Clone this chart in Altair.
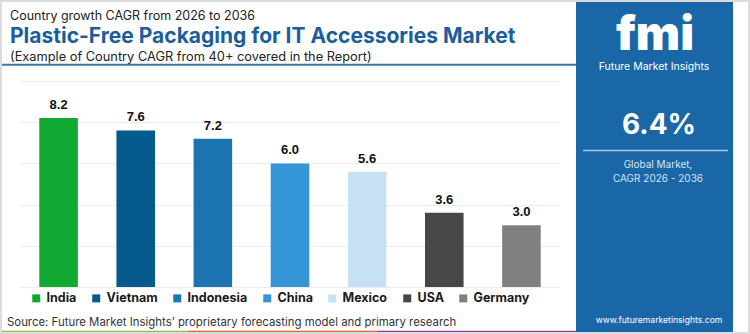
import altair as alt
import pandas as pd

# ---- data ----
countries = ["India", "Vietnam", "Indonesia", "China", "Mexico", "USA", "Germany"]
cagr = [8.2, 7.6, 7.2, 6.0, 5.6, 3.6, 3.0]
bar_colors = ["#12a932", "#045a8d", "#1c75b1", "#3395d6", "#c5e1f3", "#474747", "#808080"]
grid_values = [0, 2, 4, 6, 8, 10]
y_domain = [0, 10]

kicker = "Country growth CAGR from 2026 to 2036"
title = "Plastic-Free Packaging for IT Accessories Market"
subtitle = "(Example of Country CAGR from 40+ covered in the Report)"
source = "Source: Future Market Insights\u2019 proprietary forecasting model and primary research"
global_value = "6.4%"
global_lines = ["Global Market,", "CAGR 2026 - 2036"]
website = "www.futuremarketinsights.com"

df = pd.DataFrame({"country": countries, "cagr": cagr,
                   "label": [f"{v:.1f}" for v in cagr]})

W, H = 540, 206
PL, PT = 20, 81
FONT = "Inter"
one = pd.DataFrame({"k": [0]})


def px(v):
    return v - PL


def py(v):
    return v - PT


def txt(s, x, y, size, color, weight="normal", align="left", baseline="middle", font=FONT):
    return alt.Chart(pd.DataFrame({"t": [s]})).mark_text(
        align=align, baseline=baseline, fontSize=size, font=font,
        color=color, fontWeight=weight
    ).encode(text="t:N", x=alt.value(px(x)), y=alt.value(py(y)))


def box(x1, x2, y1, y2, color):
    return alt.Chart(one).mark_rect(color=color).encode(
        x=alt.value(px(x1)), x2=alt.value(px(x2)),
        y=alt.value(py(y1)), y2=alt.value(py(y2)))


def hline(x1, x2, y, color, w):
    return alt.Chart(one).mark_rule(color=color, strokeWidth=w).encode(
        x=alt.value(px(x1)), x2=alt.value(px(x2)), y=alt.value(py(y)))


base = alt.Chart(df)
xenc = alt.X("country:N", sort=countries,
             scale=alt.Scale(paddingInner=0.5, paddingOuter=0.25), axis=None)
yenc = alt.Y("cagr:Q", scale=alt.Scale(domain=y_domain, nice=False),
             axis=alt.Axis(values=grid_values, grid=True, gridColor="#ececec",
                           domain=False, ticks=False, labels=False, title=None))

bars = base.mark_bar().encode(
    x=xenc, y=yenc,
    color=alt.Color("country:N", sort=countries,
                    scale=alt.Scale(domain=countries, range=bar_colors),
                    legend=alt.Legend(
                        orient="none", legendX=10, legendY=211, direction="horizontal",
                        title=None, symbolType="square", symbolSize=64,
                        symbolStrokeWidth=0, symbolOpacity=1,
                        labelFont=FONT, labelFontSize=12.5, labelFontWeight="bold",
                        labelColor="#1a1a1a", columnPadding=13, labelOffset=4,
                        padding=0)),
)

labels = base.mark_text(baseline="alphabetic", dy=-9, fontSize=13,
                        font="Liberation Sans", fontWeight="bold", color="#111").encode(
    x=xenc, y=yenc, text="label:N")

layers = [
    # right panel
    box(576, 733, 0, 334, "#1a67a8"),
    # bottom strip
    box(0, 188, 330.7, 334, "#8bc34a"),
    box(188, 378, 330.7, 334, "#e5652e"),
    box(378, 576, 330.7, 334, "#8e3d92"),
    # header divider
    hline(0, 576, 64.7, "#3d77a8", 2),
    bars, labels,
    txt(kicker, 10, 15.5, 12.5, "#222222"),
    txt(title, 10, 37, 21, "#1b5e9c", weight="bold"),
    txt(subtitle, 10, 57, 12.8, "#222222"),
    txt(source, 7, 323, 11.4, "#333333"),
    txt("fmi", 655, 50, 47, "#ffffff", weight=900, align="center", baseline="alphabetic"),
    txt("Future Market Insights", 654, 67, 10.5, "#ffffff", align="center"),
    txt(global_value, 659, 126, 28, "#ffffff", weight="bold", align="center"),
    hline(583, 728, 150.5, "#a9c9e6", 1.5),
    txt(global_lines[0], 658, 165, 10, "#d6e6f4", align="center"),
    txt(global_lines[1], 658, 179, 10, "#d6e6f4", align="center"),
    txt(website, 659, 319.5, 8.6, "#ffffff", align="center"),
]

border = alt.Chart(one).mark_rect(fill=None, stroke="#dcdcdc", strokeWidth=2).encode(
    x=alt.value(px(1)), x2=alt.value(px(749)), y=alt.value(py(1)), y2=alt.value(py(333)))
layers.append(border)

chart = alt.layer(*layers).properties(
    width=W, height=H,
    autosize=alt.AutoSizeParams(type="none"),
    padding={"left": PL, "top": PT, "right": 750 - PL - W, "bottom": 334 - PT - H},
    background="#ffffff",
).configure_view(stroke=None)

chart.save("out.html", embed_options={"renderer": "svg", "actions": False})
